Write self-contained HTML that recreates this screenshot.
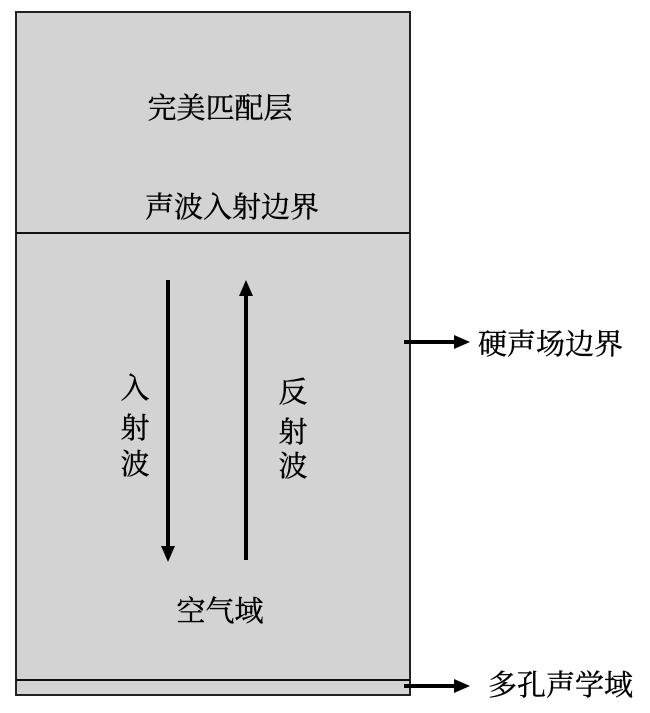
<!DOCTYPE html>
<html><head><meta charset="utf-8"><style>
body{margin:0;background:#fff;}
svg text{font-family:"Liberation Serif","Noto Serif CJK SC","Noto Sans CJK SC",serif;font-size:29px;fill:#000;stroke:#000;stroke-width:0.4;}
</style></head><body>
<svg width="650" height="708" viewBox="0 0 650 708" xmlns="http://www.w3.org/2000/svg">
<rect x="16" y="12" width="394" height="683" fill="#d3d3d3" stroke="#222" stroke-width="2"/>
<line x1="16" y1="233" x2="410" y2="233" stroke="#111" stroke-width="2"/>
<line x1="16" y1="680" x2="410" y2="680" stroke="#111" stroke-width="2"/>
<text x="220" y="118" text-anchor="middle">完美匹配层</text>
<text x="232" y="217" text-anchor="middle">声波入射边界</text>
<text x="220" y="621" text-anchor="middle">空气域</text>
<line x1="168" y1="280" x2="168" y2="548" stroke="#000" stroke-width="4"/>
<polygon points="161,546 175,546 168,562" fill="#000"/>
<line x1="246" y1="294" x2="246" y2="560" stroke="#000" stroke-width="4"/>
<polygon points="239,296 253,296 246,280" fill="#000"/>
<text x="135" y="398" text-anchor="middle">入</text>
<text x="135" y="438" text-anchor="middle">射</text>
<text x="135" y="474" text-anchor="middle">波</text>
<text x="293" y="402" text-anchor="middle">反</text>
<text x="293" y="442" text-anchor="middle">射</text>
<text x="293" y="476" text-anchor="middle">波</text>
<line x1="404" y1="342" x2="456" y2="342" stroke="#000" stroke-width="4"/>
<polygon points="454,335 470,342 454,349" fill="#000"/>
<text x="478" y="354">硬声场边界</text>
<line x1="404" y1="686" x2="456" y2="686" stroke="#000" stroke-width="4"/>
<polygon points="454,679 470,686 454,693" fill="#000"/>
<text x="488" y="695">多孔声学域</text>
</svg>
</body></html>
